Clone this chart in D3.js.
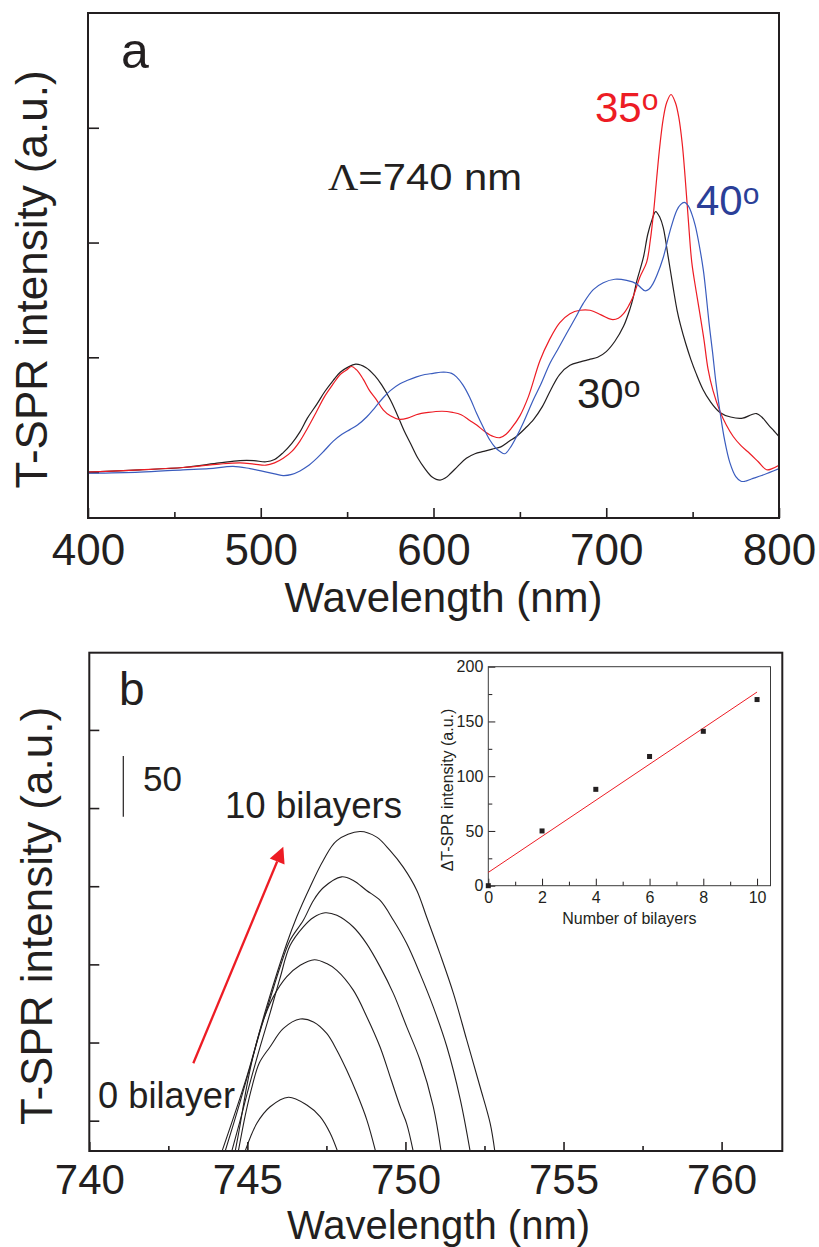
<!DOCTYPE html>
<html>
<head>
<meta charset="utf-8">
<script src="https://cdn.jsdelivr.net/npm/d3@7"></script>
<style>
  html, body { margin: 0; padding: 0; background: #fff; }
  svg { display: block; font-family: "Liberation Sans", Arial, Helvetica, sans-serif; }
</style>
</head>
<body>
<svg id="chart" width="819" height="1247"></svg>
<script>
// ---------- Panel a: T-SPR spectra for three incidence angles (Λ = 740 nm) ----------
const spectrum30 = [[400,0.00],[430,0.02],[455,0.04],[476,0.08],[488,0.10],[496,0.10],[503,0.09],[508,0.11],[513,0.17],[518,0.25],[522.7,0.35],[527,0.47],[532.4,0.59],[537,0.70],[542,0.80],[546,0.87],[550,0.91],[555,0.94],[561,0.91],[566,0.84],[570,0.76],[575,0.63],[579,0.50],[583,0.36],[587,0.24],[591,0.12],[595,0.03],[599,-0.04],[603.8,-0.07],[607,-0.05],[610,-0.01],[614,0.05],[619,0.12],[624,0.16],[629,0.18],[634,0.20],[639,0.22],[644,0.27],[648,0.31],[653,0.38],[658,0.46],[663,0.57],[668,0.72],[673,0.85],[679,0.93],[685,0.96],[690,0.98],[695,1.00],[700,1.05],[705,1.14],[710,1.27],[713.7,1.42],[715.6,1.52],[717.6,1.66],[721.5,1.87],[724,2.07],[726.5,2.20],[728.6,2.27],[731,2.22],[733,2.13],[735.9,1.87],[738.8,1.60],[741,1.41],[743,1.28],[746,1.12],[749,0.98],[752,0.86],[756,0.72],[760,0.62],[765.8,0.52],[772,0.48],[779,0.47],[784,0.50],[787,0.51],[790,0.48],[794,0.41],[797,0.36],[800,0.31]];

const spectrum35 = [[400,0.00],[430,0.02],[455,0.04],[476,0.07],[488,0.08],[496,0.07],[503,0.06],[508,0.08],[513,0.12],[518,0.18],[522.7,0.27],[527,0.38],[532.4,0.53],[537,0.66],[542,0.77],[546,0.85],[549.7,0.89],[552.5,0.92],[555.5,0.89],[559.3,0.81],[563,0.71],[567,0.63],[571,0.54],[575,0.49],[580,0.46],[585,0.47],[590,0.50],[597,0.52],[605,0.53],[611,0.52],[616,0.50],[621,0.45],[625,0.41],[630,0.35],[634.7,0.31],[638.5,0.30],[642,0.33],[645,0.38],[650,0.49],[655,0.66],[661.6,0.97],[667,1.15],[673,1.30],[679,1.38],[684.8,1.41],[690.6,1.41],[697,1.37],[703,1.33],[707,1.34],[710,1.38],[713,1.45],[715.6,1.53],[719.5,1.70],[723.4,1.83],[725.5,2.02],[727.5,2.28],[729.2,2.56],[731,2.84],[733,3.08],[735,3.22],[737.5,3.29],[740,3.22],[742,3.09],[744,2.86],[745.6,2.58],[747.5,2.20],[749.5,1.83],[752,1.58],[754.3,1.37],[756.6,1.15],[758.9,0.90],[761.8,0.71],[765.8,0.53],[769.5,0.41],[773.5,0.31],[778,0.23],[783.2,0.16],[788,0.09],[792.8,0.02],[796,0.03],[800,0.06]];

const spectrum40 = [[400,-0.01],[430,0.00],[455,0.02],[470,0.03],[484,0.05],[493.8,0.03],[503.4,0.00],[513,-0.03],[518,-0.02],[522.7,0.01],[527,0.05],[532.4,0.12],[537,0.19],[542,0.27],[547,0.33],[551.6,0.37],[556,0.41],[561.3,0.48],[566,0.56],[571,0.65],[575,0.71],[580.6,0.77],[585,0.80],[590.2,0.83],[595,0.85],[599.8,0.86],[604,0.87],[607.5,0.87],[610.5,0.86],[613.3,0.83],[617,0.76],[621,0.65],[625,0.51],[628.8,0.39],[632.6,0.28],[636,0.21],[638.5,0.18],[641.3,0.16],[644.3,0.21],[648.1,0.31],[652,0.43],[657.8,0.63],[662,0.76],[667.5,0.95],[672,1.07],[677.1,1.21],[682,1.34],[686.7,1.47],[692.5,1.59],[698.3,1.65],[705,1.68],[711.8,1.67],[717.6,1.64],[720.5,1.60],[722.4,1.58],[724.5,1.59],[727,1.64],[729.2,1.71],[733,1.87],[736.9,2.10],[740.8,2.28],[743,2.33],[745.2,2.35],[747.5,2.32],[749.5,2.25],[751.5,2.15],[753.3,2.02],[756.2,1.76],[757.8,1.55],[759.5,1.30],[761.5,1.05],[763.5,0.78],[765.8,0.53],[768.5,0.28],[771.6,0.08],[775,-0.04],[778,-0.08],[780.3,-0.08],[784,-0.06],[790,-0.03],[795,0.00],[800,0.03]];

const angleLabels = ["30", "35", "40"];
const panelAXTicks = [400, 500, 600, 700, 800];
const panelAXMinor = [450, 550, 650, 750];
const panelAYTicks = [0, 1, 2, 3];

// ---------- Panel b: peak region for increasing numbers of bilayers ----------
const bilayerCounts = [0, 2, 4, 6, 8, 10];
const peak0 = [[744.92,30],[745.30,48.3],[745.72,58.9],[746.30,65],[746.88,60.0],[747.30,52.6],[747.62,42.0],[747.86,30]];
const peak2 = [[744.71,30],[744.95,55],[745.15,72],[745.38,87],[745.72,97.3],[746.14,109.0],[746.67,115],[747.09,113.2],[747.51,105.8],[747.83,95.1],[748.14,82.4],[748.46,67.5],[748.78,50.4],[749.06,30]];
const peak4 = [[744.61,30],[744.75,45],[744.98,72],[745.19,92],[745.50,114],[745.82,129.2],[746.24,142.0],[746.67,149.4],[747.12,153],[747.51,150.5],[747.83,146.2],[748.35,133.5],[748.78,116.4],[749.20,97],[749.55,76],[749.85,58],[750.04,48],[750.25,30]];
const peak6 = [[744.50,30],[744.77,50],[745.08,74],[745.40,97],[745.72,119],[746.03,141],[746.35,162],[746.77,174],[747.09,180],[747.46,183],[747.83,181.4],[748.35,173.9],[748.77,163.3],[749.20,148.4],[749.62,131.3],[750.04,110],[750.46,88.8],[750.88,59],[751.13,30]];
const peak8 = [[744.29,30],[744.77,62],[745.08,84],[745.40,107],[745.72,128],[746.03,148],[746.35,165.4],[746.77,178.2],[747.09,190.9],[747.40,199],[747.98,206],[748.35,203.7],[748.77,197.3],[749.20,190.9],[749.62,178.2],[750.04,163.3],[750.46,144.1],[750.88,122.8],[751.31,97.3],[751.73,64],[752.05,30]];
const peak10 = [[744.19,30],[744.98,78],[745.61,123],[746.24,163],[746.56,180.3],[746.98,199.4],[747.40,216.5],[747.83,229.2],[748.56,235],[749.09,231.4],[749.51,222.9],[749.93,212.2],[750.36,197.3],[750.67,180.3],[751.09,156.9],[751.52,131.3],[751.94,101.5],[752.36,71.7],[752.68,48.3],[752.83,30]];
const peakCurves = [peak0, peak2, peak4, peak6, peak8, peak10];

const panelBXTicks = [740, 745, 750, 755, 760];
const panelBXMinor = [742.5, 747.5, 752.5, 757.5];
const panelBYTicks = [50, 100, 150, 200, 250, 300];

// ---------- Inset: intensity change vs number of bilayers ----------
const insetBilayers = [0, 2, 4, 6, 8, 10];
const insetDelta = [0, 50, 88, 118, 141, 170];
const insetXTicks = [0, 2, 4, 6, 8, 10];
const insetXMinor = [1, 3, 5, 7, 9];
const insetYTicks = [0, 50, 100, 150, 200];
const insetYMinor = [25, 75, 125, 175];

// ---------- styling ----------
const INK = "#231f20";
const RED = "#ed1c24";
const BLUE_LINE = "#3a5cbe";
const BLUE_TEXT = "#2b3f98";
const FONT = "'Liberation Sans', Arial, Helvetica, sans-serif";

const svg = d3.select("#chart");

function styleAxis(g, width) {
  g.select(".domain").remove();
  g.selectAll(".tick line").attr("stroke", INK).attr("stroke-width", width);
  g.selectAll("text").attr("fill", INK).attr("font-family", FONT);
}

// ===================== Panel a =====================
const A = { left: 88, right: 779, top: 13, bottom: 518 };
const xA = d3.scaleLinear().domain([400, 800]).range([A.left, A.right]);
const yA = d3.scaleLinear().domain([-0.4, 4.0]).range([A.bottom, A.top]);
const gA = svg.append("g");

const axAX = gA.append("g").attr("transform", `translate(0,${A.bottom})`)
  .call(d3.axisBottom(xA).tickValues(panelAXTicks).tickSizeInner(-10).tickSizeOuter(0).tickFormat(d3.format("d")));
styleAxis(axAX, 1.6);
axAX.selectAll("text").attr("y", 47).attr("dy", null).attr("font-size", 44);

const axAXm = gA.append("g").attr("transform", `translate(0,${A.bottom})`)
  .call(d3.axisBottom(xA).tickValues(panelAXMinor).tickSizeInner(-6).tickSizeOuter(0).tickFormat(""));
styleAxis(axAXm, 1.6);

const axAY = gA.append("g").attr("transform", `translate(${A.left},0)`)
  .call(d3.axisLeft(yA).tickValues(panelAYTicks).tickSizeInner(-11).tickSizeOuter(0).tickFormat(""));
styleAxis(axAY, 1.6);

const lineA = d3.line().x(d => xA(d[0])).y(d => yA(d[1])).curve(d3.curveCatmullRom.alpha(0.5));
const spectra = [
  { data: spectrum30, color: INK },
  { data: spectrum35, color: RED },
  { data: spectrum40, color: BLUE_LINE }
];
gA.selectAll("path.spec").data(spectra).join("path")
  .attr("class", "spec")
  .attr("d", d => lineA(d.data))
  .attr("fill", "none")
  .attr("stroke", d => d.color)
  .attr("stroke-width", 1.2);

gA.append("rect")
  .attr("x", A.left).attr("y", A.top)
  .attr("width", A.right - A.left).attr("height", A.bottom - A.top)
  .attr("fill", "none").attr("stroke", INK).attr("stroke-width", 2);

// panel letter and annotations
gA.append("text").attr("x", 121).attr("y", 68).attr("font-size", 50).attr("fill", INK).text("a");

const lam = gA.append("text").attr("x", 328).attr("y", 190).attr("font-size", 37).attr("fill", INK)
  .attr("textLength", 194).attr("lengthAdjust", "spacingAndGlyphs");
lam.append("tspan").attr("font-family", "'Liberation Serif', 'Times New Roman', serif").text("Λ");
lam.append("tspan").text("=740 nm");

function angleLabel(g, x, y, txt, color) {
  const t = g.append("text").attr("x", x).attr("y", y).attr("font-size", 42).attr("fill", color);
  t.append("tspan").text(txt);
  t.append("tspan").attr("font-size", 30).attr("dy", -11.5).text("o");
}
angleLabel(gA, 577, 408.3, angleLabels[0], INK);
angleLabel(gA, 595, 121.7, angleLabels[1], RED);
angleLabel(gA, 696, 215, angleLabels[2], BLUE_TEXT);

gA.append("text")
  .attr("transform", "translate(46.7,279.5) rotate(-90)")
  .attr("text-anchor", "middle").attr("font-size", 44).attr("fill", INK)
  .text("T-SPR intensity (a.u.)");
gA.append("text").attr("x", 443.5).attr("y", 612).attr("text-anchor", "middle")
  .attr("font-size", 42).attr("fill", INK).text("Wavelength (nm)");

// ===================== Panel b =====================
const B = { left: 89.3, right: 782.3, top: 652.7, bottom: 1151 };
const xB = d3.scaleLinear().domain([740, 761.92]).range([B.left, B.right]);
const yB = d3.scaleLinear().domain([30.6, 349.4]).range([B.bottom, B.top]);
const gB = svg.append("g");

svg.append("defs").append("clipPath").attr("id", "clipB")
  .append("rect").attr("x", B.left).attr("y", B.top)
  .attr("width", B.right - B.left).attr("height", B.bottom - B.top);

const axBX = gB.append("g").attr("transform", `translate(0,${B.bottom})`)
  .call(d3.axisBottom(xB).tickValues(panelBXTicks).tickSizeInner(-9).tickSizeOuter(0).tickFormat(d3.format("d")));
styleAxis(axBX, 1.6);
axBX.selectAll("text").attr("y", 42.5).attr("dy", null).attr("font-size", 42);

const axBXm = gB.append("g").attr("transform", `translate(0,${B.bottom})`)
  .call(d3.axisBottom(xB).tickValues(panelBXMinor).tickSizeInner(-5).tickSizeOuter(0).tickFormat(""));
styleAxis(axBXm, 1.6);

const axBY = gB.append("g").attr("transform", `translate(${B.left},0)`)
  .call(d3.axisLeft(yB).tickValues(panelBYTicks).tickSizeInner(-10).tickSizeOuter(0).tickFormat(""));
styleAxis(axBY, 1.6);

const lineB = d3.line().x(d => xB(d[0])).y(d => yB(d[1])).curve(d3.curveCatmullRom.alpha(0.5));
gB.append("g").attr("clip-path", "url(#clipB)")
  .selectAll("path").data(peakCurves).join("path")
  .attr("d", d => lineB(d))
  .attr("fill", "none").attr("stroke", INK).attr("stroke-width", 1.1);

gB.append("rect")
  .attr("x", B.left).attr("y", B.top)
  .attr("width", B.right - B.left).attr("height", B.bottom - B.top)
  .attr("fill", "none").attr("stroke", INK).attr("stroke-width", 2);

gB.append("text").attr("x", 119).attr("y", 705).attr("font-size", 46).attr("fill", INK).text("b");

// intensity scale bar
gB.append("line").attr("x1", 123.3).attr("x2", 123.3).attr("y1", 756).attr("y2", 816.7)
  .attr("stroke", INK).attr("stroke-width", 1.2);
gB.append("text").attr("x", 143).attr("y", 790.7).attr("font-size", 35).attr("fill", INK).text("50");

gB.append("text").attr("x", 225).attr("y", 818.3).attr("font-size", 37).attr("fill", INK)
  .attr("textLength", 177).attr("lengthAdjust", "spacingAndGlyphs")
  .text(`${bilayerCounts[bilayerCounts.length - 1]} bilayers`);
gB.append("text").attr("x", 98).attr("y", 1108.3).attr("font-size", 37).attr("fill", INK)
  .attr("textLength", 137).attr("lengthAdjust", "spacingAndGlyphs")
  .text(`${bilayerCounts[0]} bilayer`);

// red arrow showing the growth direction
const arrowStart = [193.3, 1063.3], arrowTip = [283.3, 846.7];
const adx = arrowTip[0] - arrowStart[0], ady = arrowTip[1] - arrowStart[1];
const alen = Math.hypot(adx, ady), ux = adx / alen, uy = ady / alen;
const headLen = 16, headHalf = 8;
const bx = arrowTip[0] - ux * headLen, by = arrowTip[1] - uy * headLen;
gB.append("line").attr("x1", arrowStart[0]).attr("y1", arrowStart[1]).attr("x2", bx).attr("y2", by)
  .attr("stroke", RED).attr("stroke-width", 2.3);
gB.append("path")
  .attr("d", `M${arrowTip[0]},${arrowTip[1]}L${bx - uy * headHalf},${by + ux * headHalf}L${bx + uy * headHalf},${by - ux * headHalf}Z`)
  .attr("fill", RED);

gB.append("text")
  .attr("transform", "translate(52,916) rotate(-90)")
  .attr("text-anchor", "middle").attr("font-size", 44).attr("fill", INK)
  .text("T-SPR intensity (a.u.)");
gB.append("text").attr("x", 438.5).attr("y", 1239).attr("text-anchor", "middle")
  .attr("font-size", 40).attr("fill", INK).text("Wavelength (nm)");

// ===================== Inset =====================
const I = { left: 488.3, right: 770.5, top: 666.7, bottom: 885.7 };
const xI = d3.scaleLinear().domain([0, 10.5]).range([I.left, I.right]);
const yI = d3.scaleLinear().domain([0, 200]).range([I.bottom, I.top]);
const gI = svg.append("g");

const axIX = gI.append("g").attr("transform", `translate(0,${I.bottom})`)
  .call(d3.axisBottom(xI).tickValues(insetXTicks).tickSizeInner(-7).tickSizeOuter(0).tickFormat(d3.format("d")));
styleAxis(axIX, 1);
axIX.selectAll("text").attr("y", 17.5).attr("dy", null).attr("font-size", 16);
const axIXm = gI.append("g").attr("transform", `translate(0,${I.bottom})`)
  .call(d3.axisBottom(xI).tickValues(insetXMinor).tickSizeInner(-4).tickSizeOuter(0).tickFormat(""));
styleAxis(axIXm, 1);

const axIY = gI.append("g").attr("transform", `translate(${I.left},0)`)
  .call(d3.axisLeft(yI).tickValues(insetYTicks).tickSizeInner(-7).tickSizeOuter(0).tickPadding(5).tickFormat(d3.format("d")));
styleAxis(axIY, 1);
axIY.selectAll("text").attr("font-size", 16).attr("dy", "0.33em");
const axIYm = gI.append("g").attr("transform", `translate(${I.left},0)`)
  .call(d3.axisLeft(yI).tickValues(insetYMinor).tickSizeInner(-4).tickSizeOuter(0).tickFormat(""));
styleAxis(axIYm, 1);

gI.append("rect")
  .attr("x", I.left).attr("y", I.top)
  .attr("width", I.right - I.left).attr("height", I.bottom - I.top)
  .attr("fill", "none").attr("stroke", "#3a3a3a").attr("stroke-width", 1);

// least-squares fit through the inset points
const mx = d3.mean(insetBilayers), my = d3.mean(insetDelta);
const sxy = d3.sum(insetBilayers, (x, i) => (x - mx) * (insetDelta[i] - my));
const sxx = d3.sum(insetBilayers, x => (x - mx) * (x - mx));
const slope = sxy / sxx, intercept = my - slope * mx;
const fitX = d3.extent(insetBilayers);
gI.append("line")
  .attr("x1", xI(fitX[0])).attr("y1", yI(intercept + slope * fitX[0]))
  .attr("x2", xI(fitX[1])).attr("y2", yI(intercept + slope * fitX[1]))
  .attr("stroke", RED).attr("stroke-width", 1);

const sq = 5;
gI.selectAll("rect.pt").data(insetBilayers).join("rect")
  .attr("class", "pt")
  .attr("x", d => xI(d) - sq / 2)
  .attr("y", (d, i) => yI(insetDelta[i]) - sq / 2)
  .attr("width", sq).attr("height", sq)
  .attr("fill", INK);

gI.append("text")
  .attr("transform", "translate(453,790) rotate(-90)")
  .attr("text-anchor", "middle").attr("font-size", 16).attr("fill", INK)
  .text("ΔT-SPR intensity (a.u.)");
gI.append("text").attr("x", (I.left + I.right) / 2).attr("y", 924).attr("text-anchor", "middle")
  .attr("font-size", 16).attr("fill", INK).text("Number of bilayers");
</script>
</body>
</html>
